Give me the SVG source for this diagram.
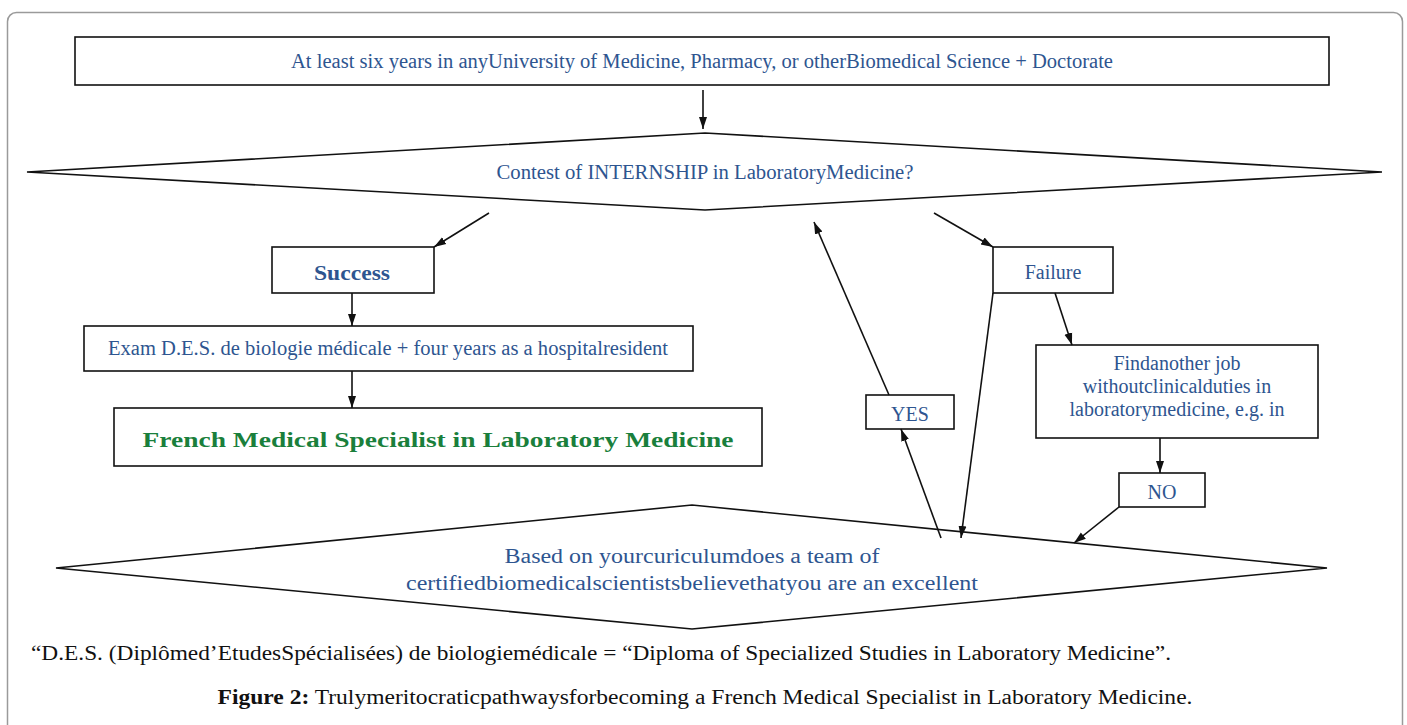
<svg xmlns="http://www.w3.org/2000/svg" width="1407" height="725" viewBox="0 0 1407 725">
<style>
.box{fill:#fff;stroke:#111;stroke-width:1.6}
.dia{fill:#fff;stroke:#111;stroke-width:1.6}
.t{font-family:"Liberation Serif","Times New Roman",serif;fill:#2e5590;font-size:20px;text-anchor:middle}
.b{font-weight:bold}
.g{fill:#1a7f3c}
.k{font-family:"Liberation Serif","Times New Roman",serif;fill:#111;font-size:20.5px}
.c line{stroke:#111;stroke-width:1.6;marker-end:url(#ah)}
</style>
<defs>
<marker id="ah" viewBox="0 0 12 10" refX="12" refY="5" markerWidth="12" markerHeight="10" markerUnits="userSpaceOnUse" orient="auto"><path d="M0,1 L12,5 L0,9 z" fill="#111"/></marker>
<clipPath id="findclip"><rect x="1036" y="345" width="282" height="93"/></clipPath>
</defs>
<rect x="7.5" y="12.5" width="1395" height="760" rx="9" fill="#fff" stroke="#9a9a9a" stroke-width="1.5"/>

<g id="n-start">
<rect class="box" x="75" y="37" width="1254" height="48"/>
<text class="t" x="702" y="68" textLength="822" lengthAdjust="spacingAndGlyphs">At least six years in anyUniversity of Medicine, Pharmacy, or otherBiomedical Science + Doctorate</text>
</g>

<g id="n-contest">
<polygon class="dia" points="27,172 705,133 1382,172 705,210"/>
<text class="t" x="705" y="179" textLength="417" lengthAdjust="spacingAndGlyphs">Contest of INTERNSHIP in LaboratoryMedicine?</text>
</g>

<g id="n-success">
<rect class="box" x="272" y="247" width="162" height="46"/>
<text class="t b" x="352" y="280" font-size="22" textLength="76" lengthAdjust="spacingAndGlyphs">Success</text>
</g>

<g id="n-exam">
<rect class="box" x="84" y="326" width="609" height="45"/>
<text class="t" x="388" y="355" textLength="560" lengthAdjust="spacingAndGlyphs">Exam D.E.S. de biologie médicale + four years as a hospitalresident</text>
</g>

<g id="n-french">
<rect class="box" x="114" y="408" width="648" height="58"/>
<text class="t b g" x="438" y="447" font-size="27" textLength="591" lengthAdjust="spacingAndGlyphs">French Medical Specialist in Laboratory Medicine</text>
</g>

<g id="n-failure">
<rect class="box" x="993" y="247" width="120" height="46"/>
<text class="t" x="1053" y="279">Failure</text>
</g>

<g id="n-find">
<rect class="box" x="1036" y="345" width="282" height="93"/>
<g clip-path="url(#findclip)">
<text class="t" x="1177" y="370">Findanother job</text>
<text class="t" x="1177" y="393">withoutclinicalduties in</text>
<text class="t" x="1177" y="416">laboratorymedicine, e.g. in</text>
</g>
</g>

<g id="n-yes">
<rect class="box" x="866" y="395" width="88" height="34"/>
<text class="t" x="910" y="421">YES</text>
</g>

<g id="n-no">
<rect class="box" x="1119" y="473" width="86" height="34"/>
<text class="t" x="1162" y="499">NO</text>
</g>

<g id="n-jury">
<polygon class="dia" points="56,568 692,505 1327,568 692,629"/>
<text class="t" x="692" y="563" font-size="21" textLength="375" lengthAdjust="spacingAndGlyphs">Based on yourcuriculumdoes a team of</text>
<text class="t" x="692" y="590" font-size="21" textLength="572" lengthAdjust="spacingAndGlyphs">certifiedbiomedicalscientistsbelievethatyou are an excellent</text>
</g>

<g id="connectors" class="c">
<line x1="703" y1="90" x2="703" y2="129"/>
<line x1="489" y1="213" x2="434" y2="247"/>
<line x1="934" y1="213" x2="993" y2="247"/>
<line x1="352" y1="293" x2="352" y2="326"/>
<line x1="352" y1="371" x2="352" y2="408"/>
<line x1="1055" y1="293" x2="1072" y2="345"/>
<line x1="993" y1="293" x2="961" y2="538"/>
<line x1="889" y1="395" x2="814" y2="222"/>
<line x1="941" y1="538" x2="901" y2="429"/>
<line x1="1160" y1="438" x2="1160" y2="473"/>
<line x1="1119" y1="507" x2="1074" y2="543"/>
</g>

<g id="notes">
<text class="k" x="31" y="660" textLength="1140" lengthAdjust="spacingAndGlyphs">“D.E.S. (Diplômed’EtudesSpécialisées) de biologiemédicale = “Diploma of Specialized Studies in Laboratory Medicine”.</text>
<text class="k" x="705" y="704" text-anchor="middle" textLength="975" lengthAdjust="spacingAndGlyphs"><tspan font-weight="bold">Figure 2:</tspan> Trulymeritocraticpathwaysforbecoming a French Medical Specialist in Laboratory Medicine.</text>
</g>
</svg>
